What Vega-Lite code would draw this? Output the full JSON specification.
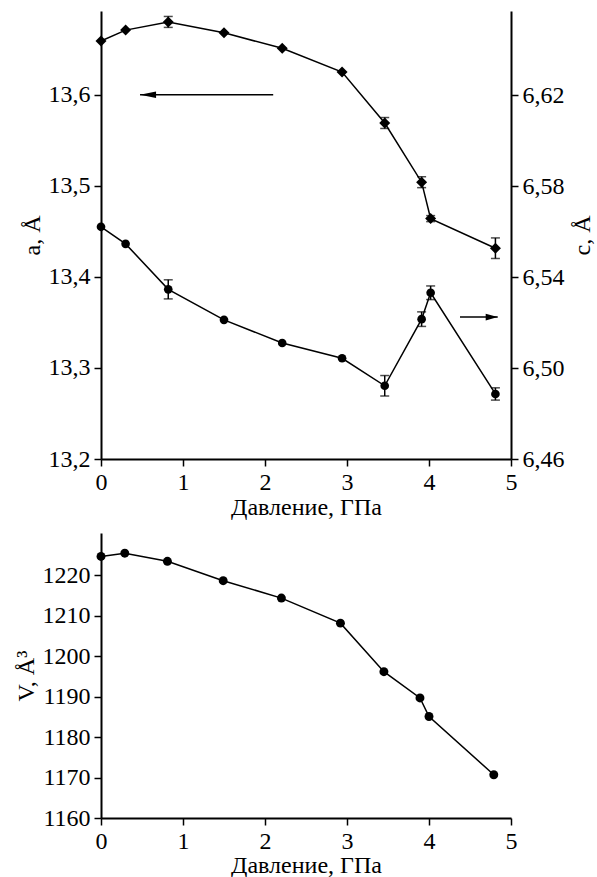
{
  "$schema": "https://vega.github.io/schema/vega-lite/v6.json",
  "padding": {"left": 14, "top": 11, "right": 5, "bottom": 0},
  "background": "white",
  "spacing": 14,
  "config": {
    "font": "Liberation Serif",
    "view": {"stroke": null},
    "axis": {
      "grid": false,
      "domainColor": "black",
      "domainWidth": 2,
      "tickColor": "black",
      "tickWidth": 1.5,
      "tickSize": 7,
      "labelFont": "Liberation Serif",
      "labelFontSize": 24,
      "labelColor": "black",
      "labelPadding": 4,
      "labelFlush": false,
      "titleFont": "Liberation Serif",
      "titleFontSize": 24,
      "titleFontWeight": "normal",
      "titleColor": "black"
    }
  },
  "datasets": {
    "lattice": [
      {"P": 0, "a": 13.659, "aErr": 0, "c": 6.5621, "cErr": 0},
      {"P": 0.30, "a": 13.671, "aErr": 0, "c": 6.5546, "cErr": 0},
      {"P": 0.82, "a": 13.680, "aErr": 0.006, "c": 6.5346, "cErr": 0.0042},
      {"P": 1.50, "a": 13.668, "aErr": 0, "c": 6.5212, "cErr": 0},
      {"P": 2.21, "a": 13.651, "aErr": 0, "c": 6.5110, "cErr": 0},
      {"P": 2.94, "a": 13.625, "aErr": 0, "c": 6.5043, "cErr": 0},
      {"P": 3.46, "a": 13.569, "aErr": 0.006, "c": 6.4922, "cErr": 0.0045},
      {"P": 3.91, "a": 13.504, "aErr": 0.006, "c": 6.5215, "cErr": 0.0032},
      {"P": 4.02, "a": 13.464, "aErr": 0.0033, "c": 6.5331, "cErr": 0.003},
      {"P": 4.81, "a": 13.4315, "aErr": 0.0113, "c": 6.4886, "cErr": 0.0027}
    ],
    "volume": [
      {"P": 0, "V": 1224.7},
      {"P": 0.29, "V": 1225.5},
      {"P": 0.81, "V": 1223.5},
      {"P": 1.49, "V": 1218.7},
      {"P": 2.20, "V": 1214.4},
      {"P": 2.92, "V": 1208.2},
      {"P": 3.45, "V": 1196.2},
      {"P": 3.89, "V": 1189.7},
      {"P": 4.00, "V": 1185.1},
      {"P": 4.79, "V": 1170.7}
    ],
    "arrowA": [{"P": 0.476, "P2": 2.10, "a": 13.6}],
    "arrowC": [{"P": 4.838, "P2": 4.378, "c": 6.5224}]
  },
  "vconcat": [
    {
      "width": 410,
      "height": 448,
      "encoding": {
        "x": {
          "field": "P",
          "type": "quantitative",
          "scale": {"domain": [0, 5], "nice": false, "zero": false},
          "axis": {"values": [0, 1, 2, 3, 4, 5], "format": "d", "title": "Давление, ГПа", "titlePadding": 1}
        }
      },
      "layer": [
        {
          "encoding": {
            "y": {
              "field": "a",
              "type": "quantitative",
              "scale": {"domain": [13.2, 13.692], "nice": false, "zero": false},
              "axis": {
                "orient": "left",
                "values": [13.2, 13.3, 13.4, 13.5, 13.6],
                "labelExpr": "replace(format(datum.value, '.1f'), '.', ',')",
                "title": "a, Å",
                "titlePadding": 4
              }
            }
          },
          "layer": [
            {"data": {"name": "lattice"}, "mark": {"type": "line", "color": "black", "strokeWidth": 1.5}},
            {
              "data": {"name": "lattice"},
              "transform": [{"filter": "datum.aErr > 0"}],
              "mark": {"type": "errorbar", "color": "black", "thickness": 1.5, "ticks": {"size": 9}},
              "encoding": {"yError": {"field": "aErr"}}
            },
            {"data": {"name": "lattice"}, "mark": {"type": "point", "shape": "diamond", "filled": true, "color": "black", "size": 121, "opacity": 1}},
            {"data": {"name": "arrowA"}, "mark": {"type": "rule", "color": "black", "strokeWidth": 1.5}, "encoding": {"x2": {"field": "P2"}}},
            {"data": {"name": "arrowA"}, "mark": {"type": "point", "shape": "M0,0L2,-0.4L2,0.4Z", "filled": true, "color": "black", "size": 256, "opacity": 1}}
          ]
        },
        {
          "encoding": {
            "y": {
              "field": "c",
              "type": "quantitative",
              "scale": {"domain": [6.46, 6.657], "nice": false, "zero": false},
              "axis": {
                "orient": "right",
                "values": [6.46, 6.50, 6.54, 6.58, 6.62],
                "labelExpr": "replace(format(datum.value, '.2f'), '.', ',')",
                "title": "c, Å",
                "titleAngle": -90,
                "titleBaseline": "top",
                "titlePadding": 6
              }
            }
          },
          "layer": [
            {"data": {"name": "lattice"}, "mark": {"type": "line", "color": "black", "strokeWidth": 1.5}},
            {
              "data": {"name": "lattice"},
              "transform": [{"filter": "datum.cErr > 0"}],
              "mark": {"type": "errorbar", "color": "black", "thickness": 1.5, "ticks": {"size": 9}},
              "encoding": {"yError": {"field": "cErr"}}
            },
            {"data": {"name": "lattice"}, "mark": {"type": "point", "shape": "circle", "filled": true, "color": "black", "size": 75, "opacity": 1}},
            {"data": {"name": "arrowC"}, "mark": {"type": "rule", "color": "black", "strokeWidth": 1.5}, "encoding": {"x2": {"field": "P2"}}},
            {"data": {"name": "arrowC"}, "mark": {"type": "point", "shape": "M0,0L-2,-0.55L-2,0.55Z", "filled": true, "color": "black", "size": 144, "opacity": 1}}
          ]
        }
      ],
      "resolve": {"scale": {"y": "independent"}, "axis": {"y": "independent"}}
    },
    {
      "width": 410,
      "height": 285,
      "data": {"name": "volume"},
      "encoding": {
        "x": {
          "field": "P",
          "type": "quantitative",
          "scale": {"domain": [0, 5], "nice": false, "zero": false},
          "axis": {"values": [0, 1, 2, 3, 4, 5], "format": "d", "title": "Давление, ГПа", "titlePadding": 0}
        },
        "y": {
          "field": "V",
          "type": "quantitative",
          "scale": {"domain": [1160, 1230.5], "nice": false, "zero": false},
          "axis": {"values": [1160, 1170, 1180, 1190, 1200, 1210, 1220], "format": "d", "title": "V, Å³", "titlePadding": 4}
        }
      },
      "layer": [
        {"mark": {"type": "line", "color": "black", "strokeWidth": 1.5}},
        {"mark": {"type": "point", "shape": "circle", "filled": true, "color": "black", "size": 80, "opacity": 1}}
      ]
    }
  ]
}
